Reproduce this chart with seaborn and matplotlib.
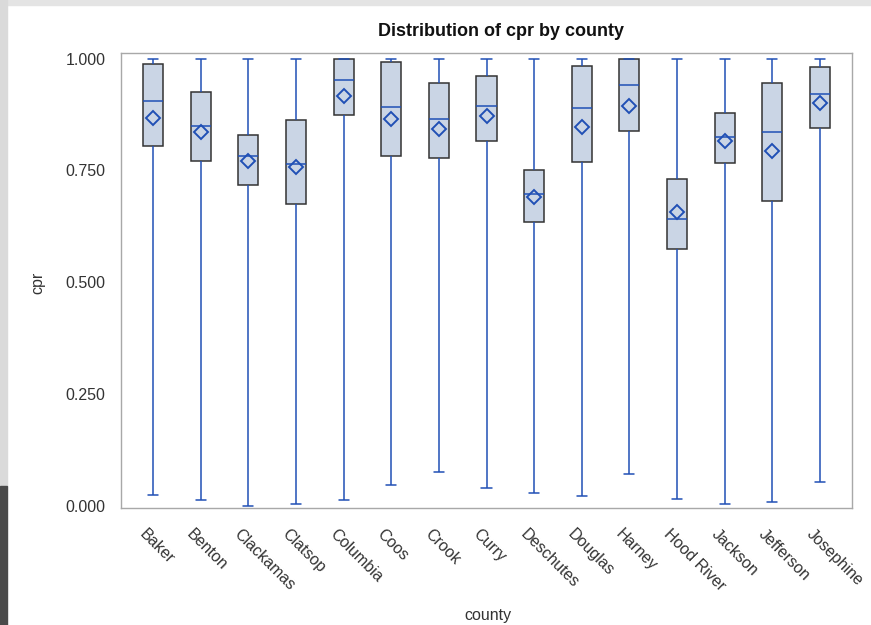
import numpy as np
import pandas as pd
import matplotlib
matplotlib.use('Agg')
import matplotlib.pyplot as plt
import matplotlib.transforms as mtransforms
from matplotlib.patches import Rectangle
import seaborn as sns

# values (five-number summary + mean per county)
counties = ['Baker', 'Benton', 'Clackamas', 'Clatsop', 'Columbia', 'Coos', 'Crook', 'Curry',
            'Deschutes', 'Douglas', 'Harney', 'Hood River', 'Jackson', 'Jefferson', 'Josephine']
cpr_min = [0.024, 0.013, 0.001, 0.006, 0.013, 0.048, 0.077, 0.040,
           0.030, 0.022, 0.073, 0.016, 0.006, 0.010, 0.055]
cpr_q1 = [0.805, 0.770, 0.717, 0.675, 0.874, 0.782, 0.777, 0.815,
          0.634, 0.768, 0.839, 0.575, 0.767, 0.682, 0.844]
cpr_median = [0.904, 0.850, 0.783, 0.765, 0.952, 0.892, 0.865, 0.895,
              0.698, 0.889, 0.940, 0.642, 0.824, 0.836, 0.920]
cpr_q3 = [0.988, 0.925, 0.830, 0.863, 1.000, 0.993, 0.945, 0.961,
          0.750, 0.984, 1.000, 0.731, 0.878, 0.946, 0.981]
cpr_max = [1.000, 1.000, 1.000, 1.000, 1.000, 1.000, 1.000, 1.000,
           1.000, 1.000, 1.000, 1.000, 1.000, 1.000, 1.000]
cpr_mean = [0.868, 0.836, 0.770, 0.757, 0.917, 0.865, 0.842, 0.872,
            0.691, 0.848, 0.895, 0.657, 0.815, 0.794, 0.901]
y_ticks = [0.0, 0.25, 0.5, 0.75, 1.0]

BLUE = '#2050B5'
FILL = '#CAD5E5'
EDGE = '#333333'
FRAME = '#A8A8A8'

# long table: five points per county, so quartiles land exactly on the read values
rows = []
for i, c in enumerate(counties):
    for v in (cpr_min[i], cpr_q1[i], cpr_median[i], cpr_q3[i], cpr_max[i]):
        rows.append({'county': c, 'cpr': v})
df = pd.DataFrame(rows)

sns.set_theme(style='white')
plt.rcParams['font.family'] = ['Liberation Sans', 'DejaVu Sans']

fig = plt.figure(figsize=(8.71, 6.25), dpi=100)
ax = fig.add_axes([121 / 871, 1 - 508 / 625, 731 / 871, 455.3 / 625])

sns.boxplot(data=df, x='county', y='cpr', order=counties, whis=(0, 100), width=0.42,
            color=FILL, saturation=1, linecolor=EDGE, linewidth=1.1, showfliers=False,
            whiskerprops=dict(color=BLUE), capprops=dict(color=BLUE),
            medianprops=dict(color=BLUE), ax=ax)

sns.pointplot(x=counties, y=cpr_mean, order=counties, linestyle='none', marker='D',
              markersize=6.8, markerfacecolor='none', markeredgecolor=BLUE,
              markeredgewidth=1.4, color=BLUE, errorbar=None, ax=ax)

ax.set_xlim(-0.67, 14.67)
ax.set_ylim(-0.004, 1.013)
ax.set_yticks(y_ticks)
ax.set_yticklabels([f'{t:.3f}' for t in y_ticks])
ax.set_xticks(range(len(counties)))
ax.set_xticklabels(counties)

for s in ax.spines.values():
    s.set_color(FRAME)
    s.set_linewidth(1)
ax.tick_params(axis='both', length=6, width=1, color=FRAME, labelcolor='#333333',
               labelsize=11.5, direction='out')
ax.tick_params(axis='y', pad=5)
ax.tick_params(axis='x', pad=7)

offset = mtransforms.ScaledTranslation(-0.06, 0, fig.dpi_scale_trans)
for lab in ax.get_xticklabels():
    lab.set_rotation(-45)
    lab.set_rotation_mode('anchor')
    lab.set_ha('left')
    lab.set_va('top')
    lab.set_transform(lab.get_transform() + offset)

ax.set_xlabel('county', fontsize=11.5, color='#333333')
ax.set_ylabel('cpr', fontsize=11.5, color='#333333')
ax.xaxis.set_label_coords(0.502, -0.22)
ax.yaxis.set_label_coords(-0.103, 0.494)

fig.text(501 / 871, 1 - 31 / 625, 'Distribution of cpr by county', ha='center', va='center',
         fontsize=13, fontweight='bold', color='#111111')

# screenshot edges
fig.patches.append(Rectangle((0, 1 - 5 / 625), 1, 5 / 625, transform=fig.transFigure,
                             color='#E4E4E4', zorder=-1))
fig.patches.append(Rectangle((0, 139 / 625), 7 / 871, 486 / 625, transform=fig.transFigure,
                             color='#DADADA', zorder=-1))
fig.patches.append(Rectangle((0, 0), 7 / 871, 139 / 625, transform=fig.transFigure,
                             color='#4A4A4A', zorder=-1))

fig.savefig('out.png', dpi=100)
